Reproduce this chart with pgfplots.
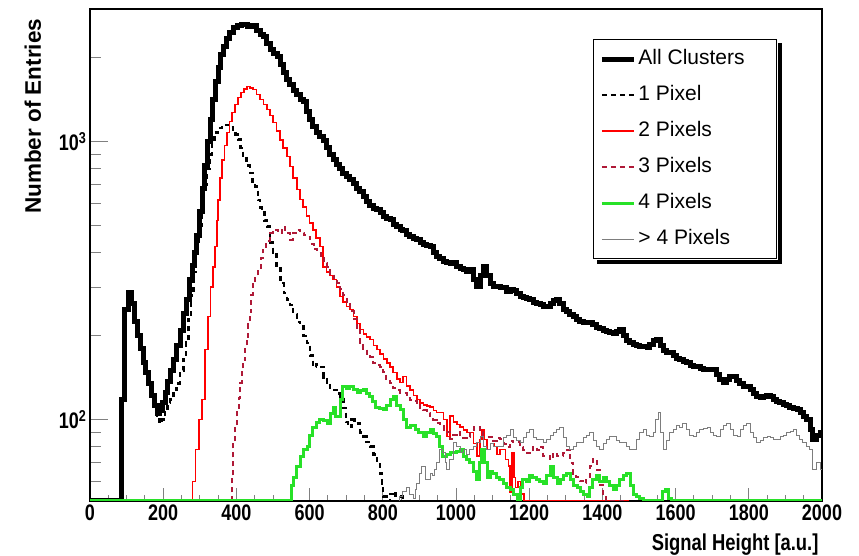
\documentclass[border=0pt]{standalone}
\usepackage{fontspec}
\setmainfont{Liberation Sans}
\newfontfamily\cond{Liberation Sans}[FakeStretch=0.8]
\usepackage{pgfplots}
\pgfplotsset{compat=1.18}
\definecolor{cred}{RGB}{255,0,0}
\definecolor{cdred}{RGB}{175,25,55}
\definecolor{cgreen}{RGB}{40,225,40}
\definecolor{cgray}{RGB}{125,125,125}
\begin{document}
\begin{tikzpicture}
\begin{axis}[
  at={(0,0)}, anchor=south west,
  scale only axis, width=732pt, height=492pt,
  xmin=0, xmax=2000, ymode=log, ymin=51, ymax=3000,
  axis line style={line width=1.3pt},
  tick pos=left, tick align=inside,
  xtick={0,200,...,2000}, minor x tick num=3,
  xtick style={line width=1pt,/pgfplots/major tick length=13pt,/pgfplots/minor tick length=6pt},
  ytick={100,1000}, yticklabels={10\textsuperscript{2},10\textsuperscript{3}},
  minor ytick={60,70,80,90,200,300,400,500,600,700,800,900,2000,3000},
  ytick style={line width=1pt,/pgfplots/major tick length=18pt,/pgfplots/minor tick length=11pt},
  /pgf/number format/assume math mode=true,
  /pgf/number format/set thousands separator={},
  tick label style={font=\cond\bfseries\fontsize{22.5}{24}\selectfont},
  xlabel={Signal Height [a.u.]}, ylabel={Number of Entries},
  xlabel style={font=\cond\bfseries\fontsize{23}{24}\selectfont, at={(axis description cs:1,0)}, anchor=north east, yshift=-29pt},
  ylabel style={font=\bfseries\fontsize{22.5}{24}\selectfont, at={(axis description cs:-0.062,0.987)}, anchor=south east},
  legend cell align=left,
  legend image code/.code={\draw[#1] (0pt,0pt) -- (32pt,0pt);},
  legend style={name=leg, at={(axis description cs:0.687,0.939)}, anchor=north west,
    draw=black, line width=1.2pt, fill=white,
    font=\fontsize{21}{22}\selectfont, row sep=13pt, inner xsep=6pt, inner ysep=8pt,
    nodes={text height=15pt, text depth=4pt}},
]
% All Clusters
\addplot[const plot, black, line width=5pt] coordinates {
(0,51) (87,118) (95,249) (104,286) (114,262) (122,225) (130,200) (137,180) (145,160) (152,148) (160,135) (168,122) (176,112) (184,105) (190,108) (197,115) (205,125) (212,137) (220,150) (228,165) (237,185) (246,210) (255,240) (265,270) (272,320) (279,360) (286,400) (292,460) (300,560) (307,680) (314,820) (322,1000) (329,1200) (336,1420) (343,1650) (350,1850) (357,2050) (364,2200) (372,2350) (380,2470) (391,2570) (402,2620) (415,2640) (430,2600) (445,2610) (455,2500) (465,2420) (473,2390) (482,2250) (492,2150) (502,2080) (511,2020) (520,1900) (530,1780) (538,1670) (546,1600) (555,1530) (565,1480) (574,1420) (582,1400) (591,1280) (600,1200) (609,1130) (618,1080) (628,1040) (637,1010) (646,950) (655,900) (664,860) (673,830) (682,800) (691,770) (700,750) (710,730) (719,710) (728,680) (737,660) (746,634) (756,610) (765,590) (775,575) (784,569) (793,555) (802,540) (811,528) (820,524) (830,505) (838,495) (847,485) (855,480) (865,465) (874,455) (884,448) (893,444) (902,435) (911,428) (920,422) (929,419) (938,400) (947,385) (956,380) (965,372) (975,368) (984,365) (992,367) (1002,355) (1011,350) (1020,348) (1030,342) (1038,347) (1048,320) (1057,301) (1066,330) (1074,355) (1084,330) (1093,310) (1103,302) (1112,301) (1121,298) (1130,300) (1139,290) (1148,294) (1157,292) (1166,285) (1175,278) (1184,275) (1193,272) (1202,270) (1211,265) (1220,262) (1230,260) (1239,255) (1249,255) (1258,262) (1266,268) (1275,270) (1284,262) (1293,250) (1302,245) (1311,238) (1320,235) (1329,230) (1338,226) (1347,224) (1356,223) (1366,223) (1374,220) (1384,215) (1393,212) (1402,210) (1411,208) (1420,206) (1429,205) (1438,208) (1448,211) (1457,200) (1466,192) (1475,189) (1484,187) (1493,185) (1502,184) (1512,183) (1522,182) (1530,186) (1540,192) (1549,194) (1558,185) (1567,178) (1576,175) (1585,174) (1594,170) (1603,166) (1612,164) (1621,162) (1630,160) (1640,157) (1648,155) (1658,155) (1667,153) (1676,152) (1685,152) (1694,151) (1703,151) (1712,145) (1721,140) (1730,136) (1739,140) (1748,143) (1757,143) (1766,138) (1775,135) (1785,132) (1795,132) (1804,128) (1813,124) (1822,121) (1831,120) (1840,121) (1849,122) (1858,121) (1867,118) (1876,116) (1885,115) (1894,113) (1903,112) (1912,111) (1922,110) (1932,109) (1941,106) (1950,103) (1959,100) (1968,92) (1975,85) (1985,88) (1995,90) (2000,90)
};
\addlegendentry{\makebox[130pt][l]{All Clusters}}
% 1 Pixel
\addplot[const plot, black, line width=2.5pt, dash pattern=on 5pt off 4pt] coordinates {
(87,118) (95,249) (104,286) (114,262) (122,225) (130,200) (137,180) (145,160) (152,148) (160,135) (168,122) (176,112) (184,103) (190,97) (197,100) (205,108) (212,115) (219,118) (228,128) (237,135) (246,150) (255,165) (262,190) (269,230) (276,280) (283,340) (290,420) (297,500) (305,600) (312,700) (320,800) (327,900) (333,1000) (340,1077) (350,1120) (360,1150) (374,1150) (383,1130) (391,1104) (398,1060) (404,1016) (411,950) (418,883) (428,820) (437,773) (444,720) (451,689) (459,618) (465,580) (470,555) (477,520) (484,495) (492,433) (500,400) (510,350) (520,310) (530,285) (538,270) (546,259) (555,240) (565,225) (574,216) (584,200) (593,189) (601,170) (609,155) (618,158) (628,155) (638,142) (648,136) (656,130) (664,128) (674,124) (683,121) (692,110) (700,98) (705,94) (715,100) (722,97) (730,97) (738,90) (746,87) (755,83) (765,80) (774,75) (784,70) (792,64) (798,59) (801,53) (810,51) (820,54) (828,55) (835,51) (845,53) (855,51) (1150,51) (1160,40)
};
\addlegendentry{1 Pixel}
% 2 Pixels
\addplot[const plot, cred, line width=1.6pt] coordinates {
(0,40) (273,40) (280,60) (288,78) (297,100) (306,118) (314,179) (322,235) (329,300) (336,355) (342,419) (347,520) (350,618) (355,740) (361,861) (368,970) (374,1077) (381,1180) (388,1271) (396,1360) (404,1439) (412,1500) (420,1550) (429,1578) (437,1560) (445,1538) (455,1480) (464,1416) (474,1360) (484,1303) (492,1240) (500,1170) (510,1090) (519,1016) (528,950) (538,883) (546,813) (555,740) (565,672) (574,620) (582,583) (591,540) (600,510) (609,482) (618,450) (628,419) (637,355) (646,340) (655,330) (664,319) (674,300) (683,277) (692,265) (701,255) (710,249) (720,235) (729,222) (738,211) (747,203) (756,198) (765,194) (775,185) (784,179) (793,172) (802,165) (811,160) (820,155) (828,148) (838,140) (847,136) (855,143) (865,132) (874,128) (884,122) (893,118) (902,115) (911,113) (920,112) (929,111) (938,108) (947,106) (956,106) (966,100) (975,87) (984,103) (993,98) (1002,96) (1011,94) (1020,92) (1030,90) (1038,90) (1048,82) (1057,74) (1066,85) (1071,92) (1078,85) (1085,78) (1094,82) (1103,80) (1112,75) (1120,78) (1128,78) (1135,72) (1143,68) (1148,55) (1153,76) (1158,62) (1163,57) (1170,60) (1178,54) (1185,51) (1460,51) (1470,40)
};
\addlegendentry{2 Pixels}
% 3 Pixels
\addplot[const plot, cdred, line width=2pt, dash pattern=on 5pt off 4pt] coordinates {
(0,40) (383,40) (388,61) (391,83) (396,95) (402,109) (406,120) (410,136) (414,150) (418,164) (424,180) (429,199) (433,220) (437,243) (441,280) (445,311) (452,330) (459,347) (466,380) (473,409) (482,440) (492,471) (500,480) (505,482) (515,470) (525,494) (532,480) (538,470) (546,444) (555,470) (565,482) (574,470) (584,460) (593,455) (602,430) (611,410) (620,399) (630,380) (639,365) (648,355) (657,335) (666,322) (675,311) (684,295) (692,280) (701,262) (710,245) (720,230) (729,210) (738,189) (747,180) (756,172) (765,168) (774,160) (783,157) (792,155) (801,148) (810,140) (820,135) (829,130) (838,128) (847,125) (855,125) (865,120) (874,118) (884,117) (893,115) (902,110) (911,108) (920,106) (929,103) (938,100) (947,97) (956,95) (966,92) (975,90) (984,85) (993,88) (1002,90) (1011,88) (1020,86) (1030,87) (1039,92) (1048,94) (1057,94) (1066,90) (1075,87) (1084,87) (1093,87) (1102,84) (1111,86) (1120,85) (1130,82) (1139,80) (1148,84) (1157,83) (1166,83) (1175,80) (1184,78) (1193,76) (1202,76) (1211,80) (1220,78) (1230,80) (1239,74) (1249,74) (1258,72) (1266,76) (1275,74) (1284,74) (1293,76) (1303,78) (1311,70) (1320,64) (1329,62) (1338,60) (1347,59) (1356,62) (1365,68) (1374,72) (1385,66) (1393,58) (1402,54) (1410,51) (1460,51) (1470,40)
};
\addlegendentry{3 Pixels}
% 4 Pixels
\addplot[const plot, cgreen, line width=3pt] coordinates {
(0,51) (546,51) (550,58) (555,62) (564,68) (574,74) (584,78) (593,80) (600,88) (609,94) (618,98) (628,100) (638,99) (648,97) (656,105) (664,111) (671,103) (678,103) (684,118) (691,132) (700,130) (710,132) (720,128) (730,125) (738,127) (746,128) (756,124) (765,121) (772,116) (779,111) (790,110) (801,109) (810,112) (820,118) (828,121) (838,112) (847,109) (856,100) (866,94) (876,95) (888,92) (898,90) (910,87) (920,90) (929,92) (938,89) (948,87) (956,80) (964,74) (975,75) (984,76) (992,76) (1002,77) (1011,78) (1020,74) (1030,72) (1038,70) (1048,65) (1057,61) (1064,70) (1071,78) (1078,70) (1085,62) (1093,65) (1101,64) (1110,62) (1120,61) (1130,59) (1139,57) (1148,56) (1157,54) (1167,51) (1175,57) (1183,61) (1192,60) (1201,63) (1210,62) (1220,61) (1229,60) (1238,59) (1248,63) (1257,68) (1266,62) (1276,59) (1285,61) (1294,63) (1303,64) (1312,61) (1321,58) (1331,57) (1340,55) (1349,54) (1358,53) (1366,57) (1374,61) (1384,63) (1393,60) (1402,62) (1411,60) (1420,58) (1429,56) (1438,58) (1448,61) (1457,63) (1467,64) (1476,58) (1484,54) (1493,53) (1502,52) (1511,51) (1557,51) (1565,55) (1572,56) (1580,52) (1590,51) (2000,51)
};
\addlegendentry{4 Pixels}
% > 4 Pixels
\addplot[const plot, cgray, line width=1pt] coordinates {
(840,40) (845,53) (855,55) (865,57) (874,54) (883,52) (888,56) (893,59) (900,64) (905,68) (910,68) (916,61) (921,61) (930,64) (937,63) (941,66) (948,70) (956,78) (964,76) (970,70) (975,66) (983,72) (992,83) (1002,80) (1011,76) (1020,78) (1030,75) (1038,78) (1048,80) (1057,83) (1066,87) (1075,80) (1084,78) (1093,82) (1102,80) (1111,80) (1120,80) (1130,86) (1139,88) (1148,92) (1157,86) (1166,84) (1175,83) (1184,86) (1193,90) (1202,92) (1211,86) (1220,85) (1230,85) (1239,83) (1248,85) (1257,88) (1266,90) (1275,92) (1284,94) (1293,86) (1303,80) (1311,78) (1320,80) (1330,83) (1339,83) (1348,86) (1357,88) (1366,90) (1375,84) (1384,80) (1393,78) (1402,82) (1411,85) (1420,87) (1429,87) (1438,84) (1447,83) (1456,83) (1465,80) (1475,78) (1484,78) (1493,85) (1502,90) (1511,92) (1520,88) (1530,87) (1540,90) (1546,100) (1552,106) (1558,90) (1566,78) (1575,84) (1584,90) (1593,92) (1602,95) (1611,94) (1620,97) (1630,92) (1639,88) (1648,87) (1657,90) (1666,92) (1676,93) (1686,94) (1695,90) (1704,88) (1713,87) (1722,92) (1731,95) (1740,97) (1749,92) (1758,88) (1768,87) (1777,92) (1786,95) (1795,97) (1804,90) (1813,86) (1822,83) (1831,84) (1840,86) (1850,87) (1859,86) (1868,85) (1877,85) (1886,87) (1895,88) (1904,90) (1913,91) (1921,92) (1930,88) (1939,85) (1948,83) (1957,80) (1967,78) (1975,66) (1985,70) (1995,66) (2000,66)
};
\addlegendentry{> 4 Pixels}
\end{axis}
\fill[black] ([xshift=4pt,yshift=-4.5pt]leg.south west) rectangle ([xshift=4.5pt,yshift=-0.6pt]leg.south east);
\fill[black] ([xshift=0.6pt,yshift=-4.5pt]leg.south east) rectangle ([xshift=4.5pt,yshift=-4pt]leg.north east);
\pgfresetboundingbox
\path[use as bounding box] (-90pt,-55pt) rectangle (769pt,501pt);
\end{tikzpicture}
\end{document}
